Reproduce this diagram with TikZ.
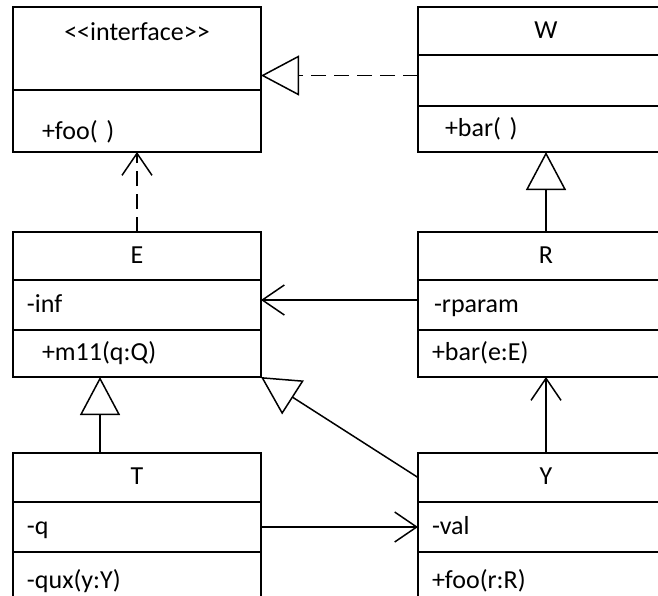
\documentclass[tikz,border=0pt]{standalone}
\usepackage{fontspec}
\setmainfont{Carlito}
\usetikzlibrary{arrows.meta}

\newcommand{\umlfont}{\fontsize{26pt}{31pt}\selectfont}

\begin{document}
\begin{tikzpicture}
[x=1pt,y=-1pt,line width=1.5pt,
 box/.style={draw,inner xsep=14pt,inner ysep=0pt,outer sep=0pt,anchor=north,font=\umlfont,text height=18pt,text depth=4pt},
 head/.style={box,align=center},
 member/.style={box,align=left},
 lcol/.style={text width=220pt},
 rcol/.style={text width=228pt},
 inherit/.style={-{Triangle[open,length=38pt,width=40pt]}},
 assoc/.style={-{Straight Barb[length=22pt,width=30pt]}},
 dep/.style={dash pattern=on 15pt off 8pt},
]

%Frame
\useasboundingbox (0,0) rectangle (658,595);
\clip (0,0) rectangle (658,595);

%Interface
\node (Iname) at (137,7)[head,lcol,minimum height=83pt,text depth=35pt] {<\kern0pt<interface>\kern0pt>};
\node (Imeth) at (Iname.south)[member,lcol,minimum height=62pt,text height=40pt] {\hspace*{15pt}+foo( )};

%Class W
\node (Wname) at (546,7)[head,rcol,minimum height=48pt] {W};
\node (Wattr) at (Wname.south)[member,rcol,minimum height=51pt] {};
\node (Wmeth) at (Wattr.south)[member,rcol,minimum height=46pt] {\hspace*{13pt}+bar( )};

%Class E
\node (Ename) at (137,232)[head,lcol,minimum height=48pt] {E};
\node (Eattr) at (Ename.south)[member,lcol,minimum height=50pt] {-inf};
\node (Emeth) at (Eattr.south)[member,lcol,minimum height=47pt] {\hspace*{15pt}+m11(q:Q)};

%Class R
\node (Rname) at (546,232)[head,rcol,minimum height=48pt] {R};
\node (Rattr) at (Rname.south)[member,rcol,minimum height=50pt] {\hspace*{2pt}-rparam};
\node (Rmeth) at (Rattr.south)[member,rcol,minimum height=47pt] {+bar(e:E)};

%Class T
\node (Tname) at (137,453)[head,lcol,minimum height=49pt] {T};
\node (Tattr) at (Tname.south)[member,lcol,minimum height=50pt] {-q};
\node (Tmeth) at (Tattr.south)[member,lcol,minimum height=58pt] {-qux(y:Y)};

%Class Y
\node (Yname) at (546,453)[head,rcol,minimum height=49pt] {Y};
\node (Yattr) at (Yname.south)[member,rcol,minimum height=50pt] {-val};
\node (Ymeth) at (Yattr.south)[member,rcol,minimum height=58pt] {+foo(r:R)};

%Link points
\coordinate (Wlink) at ([yshift=5pt]Wattr.west);
\coordinate (Rlink) at ([yshift=5pt]Rattr.west);
\coordinate (Tlink) at ([xshift=87pt]Tname.north west);

%Realization and dependency
\draw[dep,inherit] (Wlink) -- (Wlink -| Iname.east);
\draw[dep,assoc] (Ename.north) -- (Imeth.south);

%Generalization
\draw[inherit] (Rname.north) -- (Wmeth.south);
\draw[inherit] (Tlink) -- (Tlink |- Emeth.south);
\draw[inherit] (Yname.west) -- (Emeth.south east);

%Associations
\draw[assoc] (Rlink) -- (Rlink -| Eattr.east);
\draw[assoc] (Tattr.east) -- (Yattr.west);
\draw[assoc] (Yname.north) -- (Rmeth.south);

\end{tikzpicture}
\end{document}
